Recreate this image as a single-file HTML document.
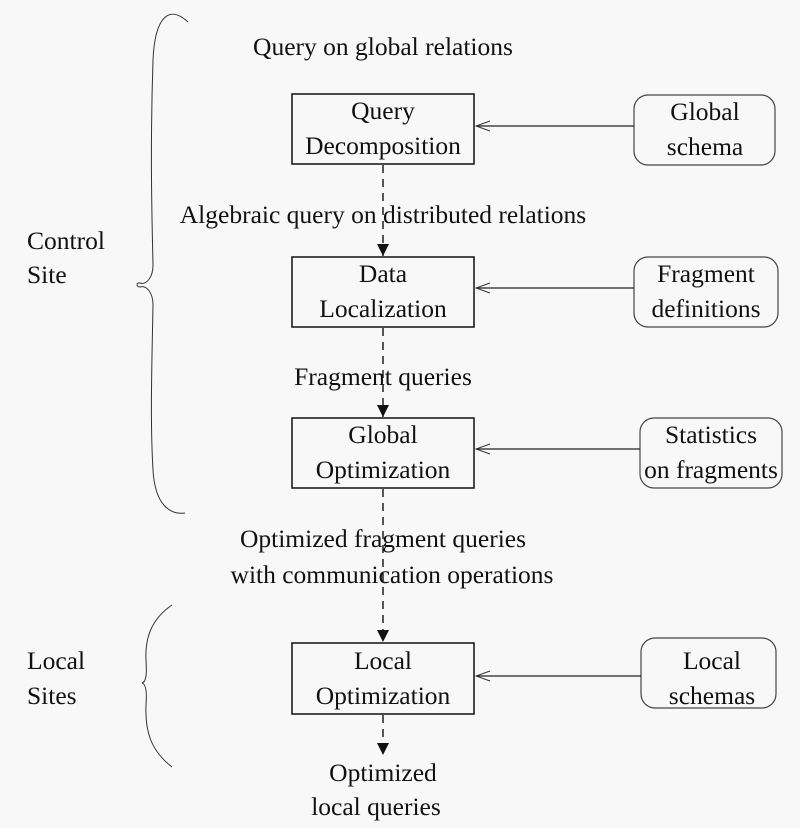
<!DOCTYPE html>
<html><head><meta charset="utf-8"><style>
html,body{margin:0;padding:0;background:#f8f8f8;}
svg{display:block;}
</style></head><body>
<svg width="800" height="828" viewBox="0 0 800 828" xmlns="http://www.w3.org/2000/svg" font-family="'Liberation Serif','DejaVu Serif',serif" font-size="25.5" fill="#111">
<defs>
<marker id="ah" markerWidth="12" markerHeight="16" refX="12" refY="8" orient="auto" markerUnits="userSpaceOnUse">
<path d="M0,2 L12,8 L0,14 Z" fill="#111"/></marker>
<marker id="oa" markerWidth="16" markerHeight="12" refX="15" refY="6" orient="auto" markerUnits="userSpaceOnUse">
<path d="M1,1 L15,6 L1,11" fill="none" stroke="#333" stroke-width="1"/></marker>
</defs>
<g fill="none" stroke="#111" stroke-width="1.5">
<rect x="292" y="94" width="182" height="70"/>
<rect x="292" y="257" width="182" height="70"/>
<rect x="292" y="418" width="182" height="70"/>
<rect x="292" y="643" width="182" height="71"/>
</g>
<g fill="none" stroke="#444" stroke-width="1.2">
<rect x="634" y="95" width="141" height="70" rx="14"/>
<rect x="634" y="257" width="144" height="70" rx="14"/>
<rect x="640" y="418" width="142" height="70" rx="14"/>
<rect x="641" y="638" width="135" height="70" rx="14"/>
</g>
<g stroke="#222" stroke-width="1.3">
<line x1="634" y1="126" x2="476" y2="126" marker-end="url(#oa)"/>
<line x1="634" y1="288" x2="476" y2="288" marker-end="url(#oa)"/>
<line x1="640" y1="449" x2="476" y2="449" marker-end="url(#oa)"/>
<line x1="641" y1="676" x2="476" y2="676" marker-end="url(#oa)"/>
</g>
<g stroke="#111" stroke-width="1.4" stroke-dasharray="8,6">
<line x1="383" y1="165" x2="383" y2="256" marker-end="url(#ah)"/>
<line x1="383" y1="328" x2="383" y2="417" marker-end="url(#ah)"/>
<line x1="383" y1="489" x2="383" y2="642" marker-end="url(#ah)"/>
<line x1="383" y1="715" x2="383" y2="755" marker-end="url(#ah)"/>
</g>
<g fill="none" stroke="#333" stroke-width="1">
<path d="M188,22 C170,5 155,15 153,60 C150,150 152,220 153,265 C153,278 146,285 140,283 C136,282 136,287 140,287 C146,285 153,292 153,305 C152,360 150,420 153,470 C155,505 170,515 185,513"/>
<path d="M172,605 C150,620 145,640 146,660 C147,675 146,682 142,683 C146,684 147,692 146,705 C145,730 150,750 172,767"/>
</g>
<g text-anchor="middle">
<text x="383" y="55">Query on global relations</text>
<text x="383" y="119">Query</text><text x="383" y="154">Decomposition</text>
<text x="383" y="223">Algebraic query on distributed relations</text>
<text x="383" y="385">Fragment queries</text>
<text x="383" y="282">Data</text><text x="383" y="317">Localization</text>
<text x="383" y="443">Global</text><text x="383" y="478">Optimization</text>
<text x="383" y="547">Optimized fragment queries</text>
<text x="392" y="583">with communication operations</text>
<text x="383" y="669">Local</text><text x="383" y="704">Optimization</text>
<text x="383" y="781">Optimized</text><text x="376" y="815">local queries</text>
<text x="705" y="120">Global</text><text x="705" y="155">schema</text>
<text x="706" y="282">Fragment</text><text x="706" y="317">definitions</text>
<text x="711" y="443">Statistics</text><text x="711" y="478">on fragments</text>
<text x="712" y="669">Local</text><text x="712" y="704">schemas</text>
</g>
<text x="27" y="249">Control</text><text x="27" y="283">Site</text>
<text x="27" y="669">Local</text><text x="27" y="704">Sites</text>
</svg>
</body></html>
